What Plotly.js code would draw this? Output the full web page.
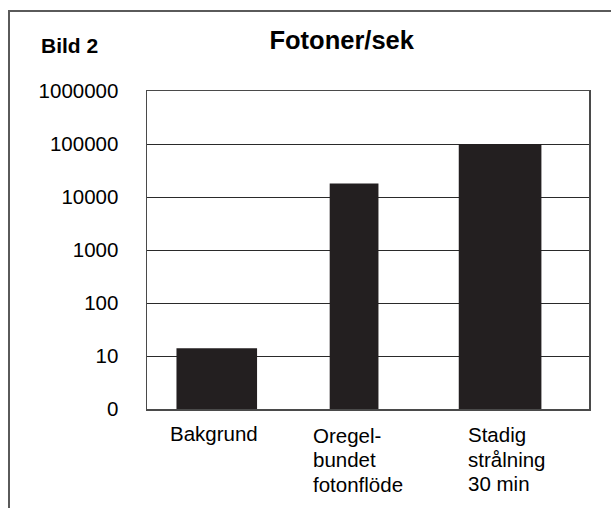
<!DOCTYPE html>
<html>
<head>
<meta charset="utf-8">
<script src="https://cdn.plot.ly/plotly-3.0.1.min.js"></script>
<style>
  html, body { margin: 0; padding: 0; background: #fff; overflow: hidden; }
  #wrap { position: relative; width: 611px; height: 508px; overflow: hidden; }
  #chart { position: absolute; left: 0; top: 0; width: 611px; height: 508px; z-index: 1; }
  #frame { position: absolute; left: 8px; top: 10px; width: 603px; height: 498px; z-index: 2;
           box-sizing: border-box;
           border-top: 2px solid #5a5a5a; border-left: 2px solid #5a5a5a; pointer-events: none; }
</style>
</head>
<body>
<div id="wrap">
  <div id="chart"></div>
  <div id="frame"></div>
</div>
<script>
// ---- data ----
const categories = ["Bakgrund", "Oregelbundet fotonflöde", "Stadig strålning 30 min"];
const categoryLabels = ["Bakgrund", "Oregel-\nbundet\nfotonflöde", "Stadig\nstrålning\n30 min"];
const photonsPerSec = [14, 18000, 100000];
const tickValues = [1, 10, 100, 1000, 10000, 100000, 1000000];
const tickLabels = ["0", "10", "100", "1000", "10000", "100000", "1000000"];
const chartTitle = "Fotoner/sek";
const figureLabel = "Bild 2";

// ---- layout geometry (pixels) ----
const W = 611, H = 508;
const plotL = 147.3, plotR = 589.5, plotT = 91.3, plotB = 409.5;
const plotW = plotR - plotL, plotH = plotB - plotT;
const px2x = p => (p - plotL) / plotW;
const py2y = p => (plotB - p) / plotH;

// bar styling (width / offset relative to category slot)
const barWidths = [0.547, 0.331, 0.561];
const barOffsets = [-0.30, -0.26, -0.384];

const FONT = "Liberation Sans, Arial, Helvetica, sans-serif";
const ink = "#231f20";

// category label placement
const labelLeftPx = [168.5, 311.8, 466.1];
const labelFirstCenterPx = [434.0, 436.0, 435.5];
const labelLineStep = 24.5;

const annotations = [];
categoryLabels.forEach((lab, i) => {
  lab.split("\n").forEach((line, j) => {
    annotations.push({
      text: line, xref: "paper", yref: "paper",
      x: px2x(labelLeftPx[i]), y: py2y(labelFirstCenterPx[i] + j * labelLineStep),
      xanchor: "left", yanchor: "middle", showarrow: false,
      font: { family: FONT, size: 20.5, color: "#000" }
    });
  });
});
annotations.push({
  text: "<b>" + figureLabel + "</b>", xref: "paper", yref: "paper",
  x: px2x(39), y: py2y(45.5), xanchor: "left", yanchor: "middle", showarrow: false,
  font: { family: FONT, size: 21, color: "#000" }
});

const trace = {
  type: "bar", x: categories, y: photonsPerSec,
  width: barWidths, offset: barOffsets,
  marker: { color: ink, line: { width: 0 } }
};

const layout = {
  width: W, height: H,
  margin: { l: plotL, r: W - plotR, t: plotT, b: H - plotB, pad: 0 },
  paper_bgcolor: "rgba(0,0,0,0)", plot_bgcolor: "#fff", showlegend: false,
  title: {
    text: "<b>" + chartTitle + "</b>",
    font: { family: FONT, size: 25.5, color: "#000" },
    xref: "container", yref: "container",
    x: 341.7 / W, xanchor: "center", y: 1 - 40.5 / H, yanchor: "middle"
  },
  xaxis: { type: "category", range: [-0.5, 2.5], showticklabels: false, ticks: "",
    showgrid: false, zeroline: false, showline: true, mirror: true, linecolor: "#4a4a4a", linewidth: 1.5 },
  yaxis: { type: "log", range: [0, 6], tickmode: "array", tickvals: tickValues, ticktext: tickLabels,
    ticks: "", ticklabelstandoff: 23, ticklabelshift: -2.5,
    tickfont: { family: FONT, size: 20.5, color: "#000" },
    showgrid: true, gridcolor: "#2a2a2a", gridwidth: 1, zeroline: false,
    showline: true, mirror: true, linecolor: "#4a4a4a", linewidth: 1.5 },
  annotations: annotations
};

Plotly.newPlot("chart", [trace], layout, { displayModeBar: false, staticPlot: true });
</script>
</body>
</html>
